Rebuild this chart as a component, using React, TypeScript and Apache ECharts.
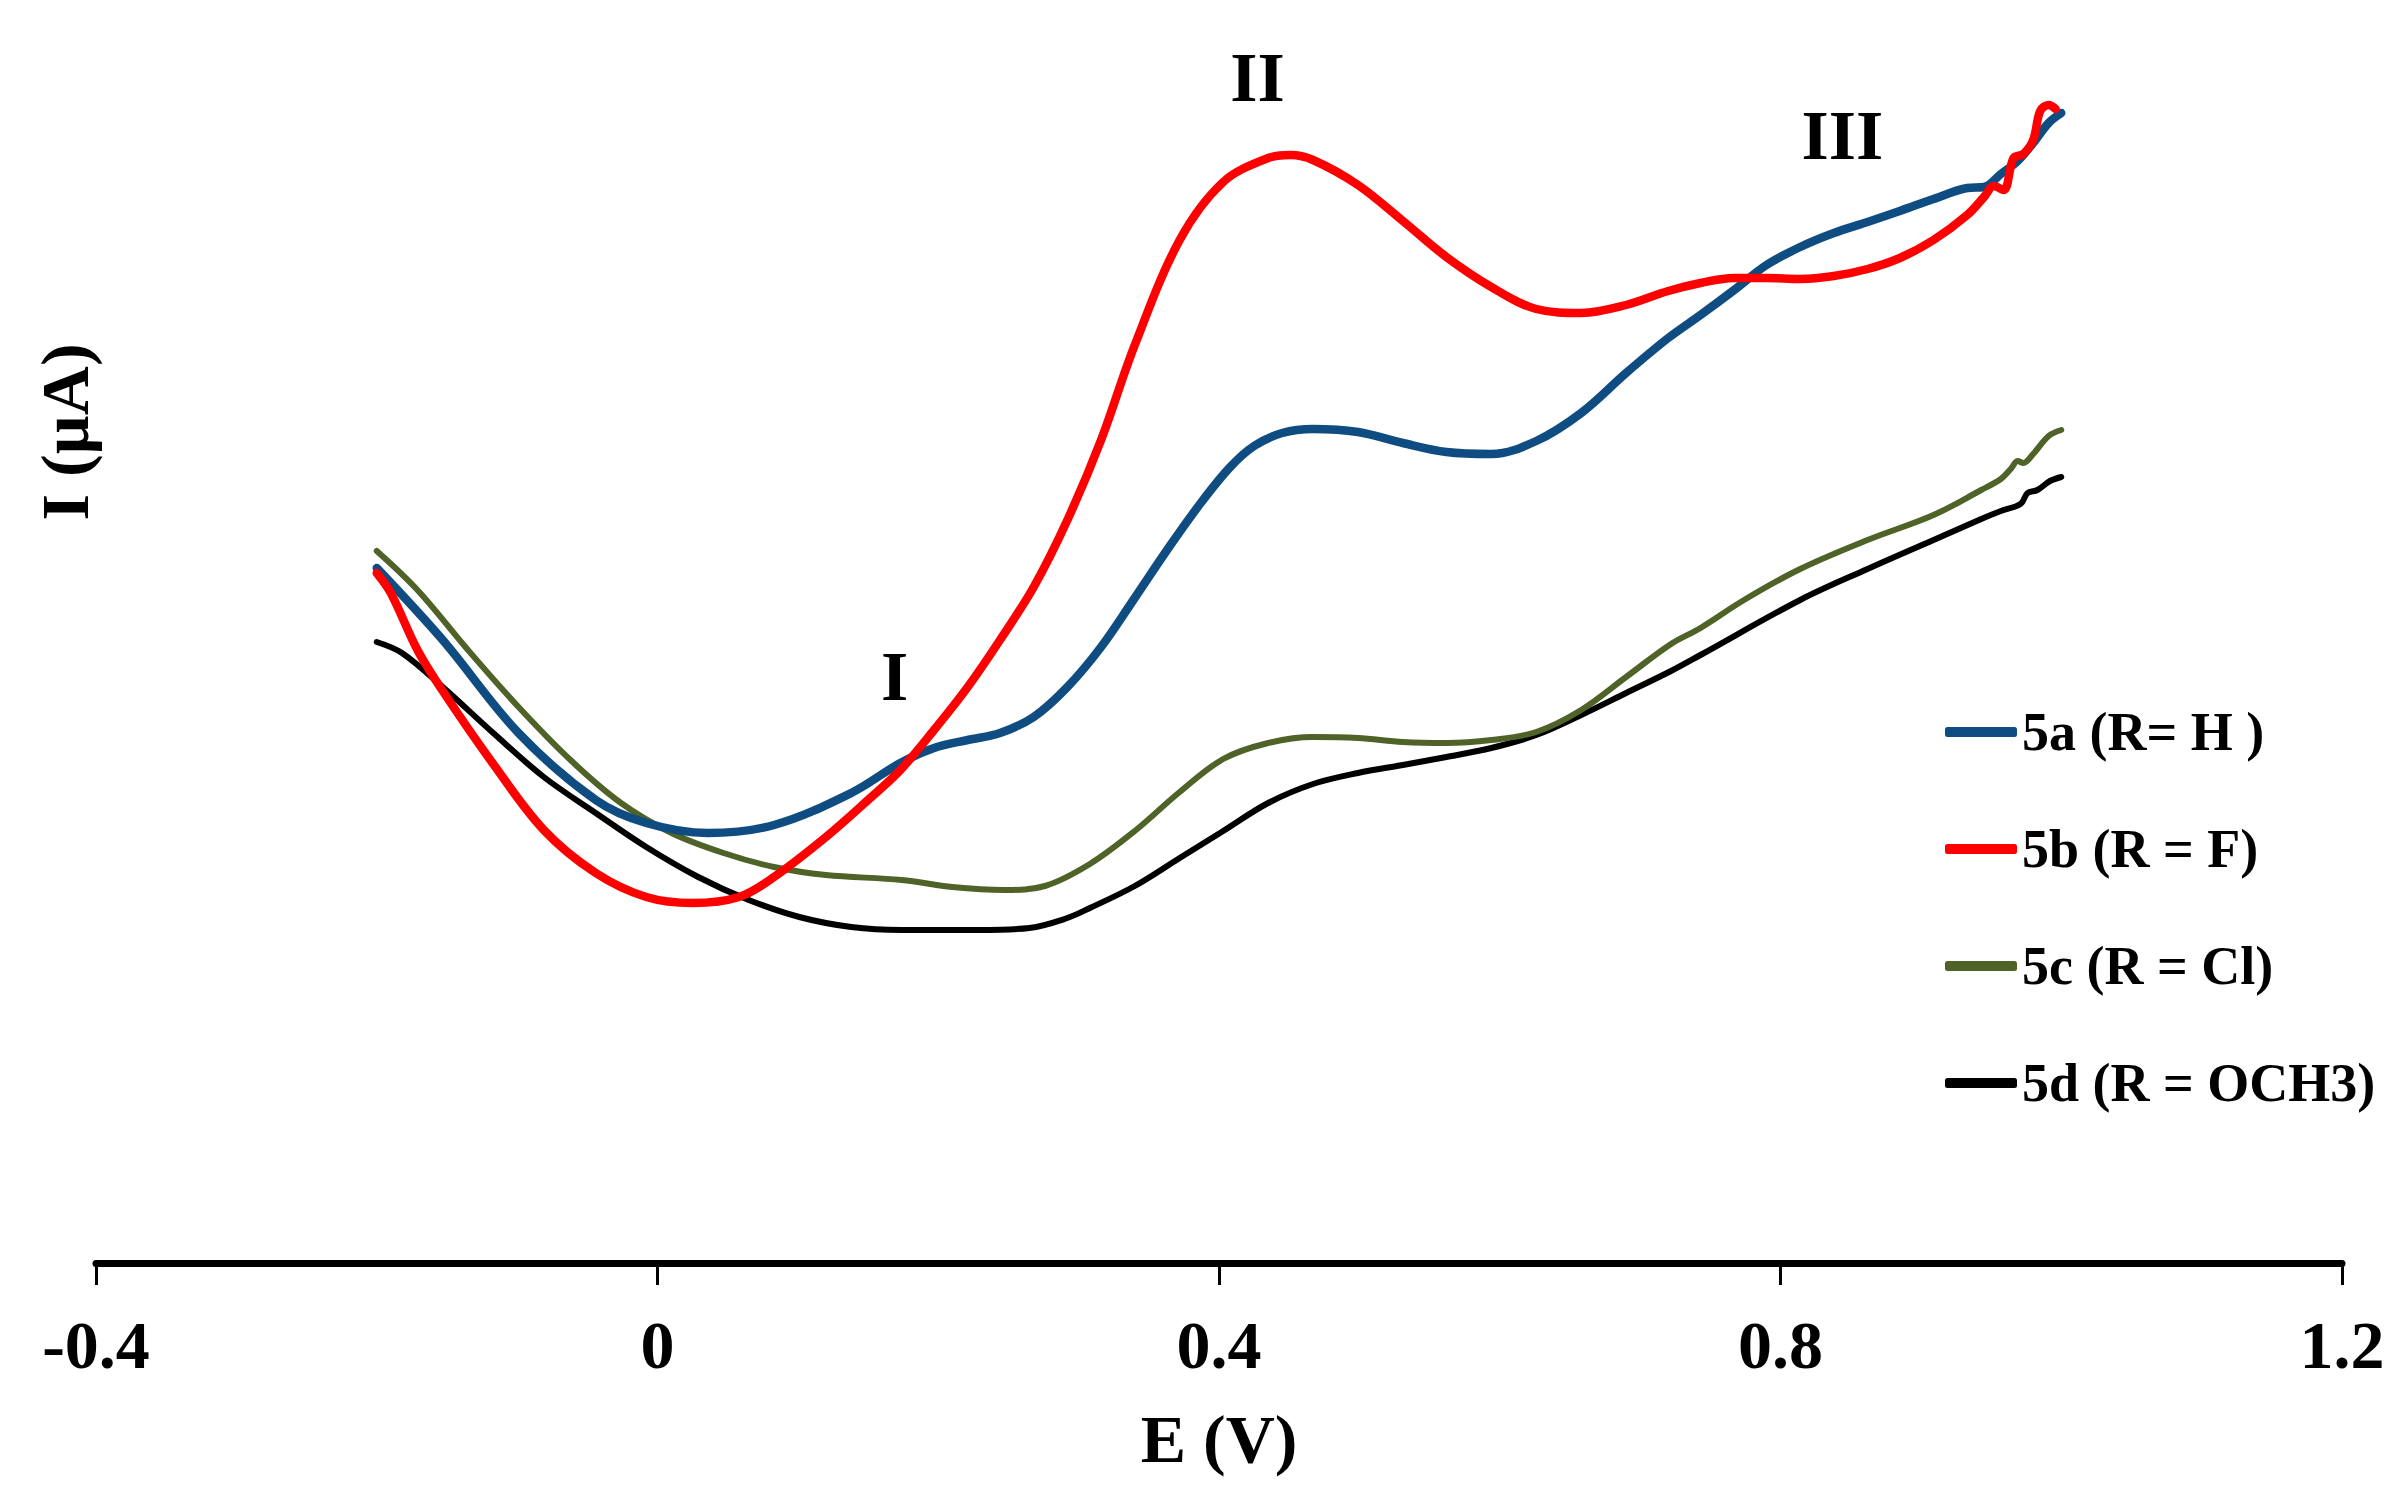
import React, { useEffect, useRef } from "react";
import * as echarts from "echarts";

const seriesNames = ["5a (R= H )", "5b (R = F)", "5c (R = Cl)", "5d (R = OCH3)"];
const seriesColors = ["#0F4C81", "#FF0000", "#4F6228", "#000000"];

const xTickLabels = ["-0.4", "0", "0.4", "0.8", "1.2"];
const peakLabels = ["I", "II", "III"];

const curve5a: [number, number][] = [
  [-0.2, 69.5], [-0.153, 62.3], [-0.099, 53], [-0.044, 46.3], [-0.008, 44], [0.036, 43],
  [0.083, 43.8], [0.138, 47], [0.173, 50], [0.197, 51.5], [0.221, 52.3], [0.244, 53],
  [0.268, 54.6], [0.292, 57.6], [0.316, 61.6], [0.339, 66.3], [0.363, 71.3], [0.387, 76],
  [0.408, 79.6], [0.425, 81.7], [0.445, 83], [0.467, 83.4], [0.499, 83.1], [0.531, 82],
  [0.562, 81.1], [0.594, 80.9], [0.626, 82.2], [0.658, 85], [0.69, 89], [0.72, 92.5],
  [0.743, 94.8], [0.767, 97.3], [0.79, 99.8], [0.814, 101.6], [0.838, 103], [0.862, 104.1],
  [0.885, 105.2], [0.909, 106.4], [0.933, 107.5], [0.945, 107.6], [0.957, 108.9], [0.969, 110.2],
  [0.98, 112], [0.991, 114], [1.0, 115],
];

const curve5b: [number, number][] = [
  [-0.2, 69], [-0.19, 67], [-0.171, 61.3], [-0.153, 57.2], [-0.117, 49.9], [-0.081, 43.3],
  [-0.044, 39], [-0.008, 36.6], [0.025, 36], [0.058, 36.6], [0.083, 38.6], [0.12, 42.6],
  [0.15, 46.3], [0.173, 49.3], [0.197, 53.3], [0.221, 57.6], [0.244, 62.3], [0.268, 67.6],
  [0.292, 74.3], [0.316, 82.3], [0.34, 91.8], [0.372, 102.3], [0.403, 108.1], [0.435, 110.5],
  [0.451, 110.8], [0.467, 110.3], [0.499, 107.8], [0.531, 104.2], [0.562, 100.6], [0.594, 97.6],
  [0.626, 95.4], [0.658, 95], [0.69, 95.8], [0.72, 97.2], [0.743, 98], [0.767, 98.5],
  [0.79, 98.5], [0.814, 98.4], [0.838, 98.7], [0.862, 99.4], [0.885, 100.5], [0.909, 102.3],
  [0.933, 104.8], [0.945, 106.6], [0.952, 107.7], [0.959, 107.3], [0.966, 110.5], [0.973, 110.9],
  [0.98, 112.3], [0.985, 115.2], [0.991, 115.8], [0.996, 115.4],
];

const curve5c: [number, number][] = [
  [-0.2, 71.2], [-0.171, 67.3], [-0.135, 61.3], [-0.099, 55.6], [-0.062, 50.3], [-0.026, 46],
  [0.01, 43], [0.047, 41], [0.083, 39.6], [0.12, 38.8], [0.174, 38.3], [0.21, 37.6],
  [0.247, 37.3], [0.276, 37.7], [0.308, 39.9], [0.34, 43.2], [0.372, 47.1], [0.403, 50.4],
  [0.435, 52], [0.467, 52.6], [0.499, 52.5], [0.531, 52.1], [0.562, 52], [0.594, 52.3],
  [0.626, 53.1], [0.658, 55.3], [0.69, 58.6], [0.722, 61.9], [0.743, 63.5], [0.774, 66.3],
  [0.814, 69.4], [0.862, 72.3], [0.909, 74.8], [0.943, 77.3], [0.957, 78.4], [0.964, 79.4],
  [0.969, 80.2], [0.973, 80], [0.98, 80.9], [0.991, 82.7], [1.0, 83.3],
];

const curve5d: [number, number][] = [
  [-0.2, 62.1], [-0.182, 61], [-0.153, 57.6], [-0.117, 53], [-0.081, 48.6], [-0.044, 45],
  [-0.008, 41.6], [0.029, 38.6], [0.065, 36.3], [0.101, 34.6], [0.138, 33.6], [0.174, 33.3],
  [0.229, 33.3], [0.265, 33.5], [0.29, 34.4], [0.308, 35.5], [0.34, 37.7], [0.372, 40.5],
  [0.403, 43.2], [0.435, 46], [0.467, 47.9], [0.499, 49], [0.531, 49.8], [0.562, 50.6],
  [0.594, 51.5], [0.626, 52.8], [0.658, 54.8], [0.69, 57], [0.722, 59.2], [0.743, 60.8],
  [0.814, 66.3], [0.862, 69.4], [0.909, 72.3], [0.943, 74.4], [0.957, 75.2], [0.971, 75.9],
  [0.976, 77], [0.983, 77.3], [0.992, 78.2], [1.0, 78.6],
];

const curves = [curve5a, curve5b, curve5c, curve5d];

const FONT = "'Liberation Serif', 'Times New Roman', serif";

export default function App() {
  const ref = useRef<HTMLDivElement>(null);

  useEffect(() => {
    if (!ref.current) return;
    const chart = echarts.init(ref.current, null, { renderer: "svg" });
    const widths = [8.5, 8.5, 6, 6];
    const zs = [4, 5, 3, 2];
    const peakCoords = [
      [0.169, 58.7],
      [0.4274, 118.6],
      [0.844, 112.8],
    ];
    const option: any = {
      animation: false,
      backgroundColor: "#ffffff",
      grid: { left: 96, right: 64, top: 63, bottom: 235, containLabel: false },
      xAxis: {
        type: "value",
        min: -0.4,
        max: 1.2,
        interval: 0.4,
        name: "E (V)",
        nameLocation: "middle",
        nameGap: 142,
        nameTextStyle: { fontFamily: FONT, fontWeight: "bold", fontSize: 68, color: "#000" },
        axisLine: { show: true, onZero: false, lineStyle: { color: "#000", width: 7 } },
        axisTick: { show: true, length: 22, lineStyle: { color: "#000", width: 3 } },
        axisLabel: {
          margin: 48,
          fontFamily: FONT,
          fontWeight: "bold",
          fontSize: 68,
          color: "#000",
          formatter: (v: number) => {
            const idx = Math.round((v + 0.4) / 0.4);
            return xTickLabels[idx] ?? String(v);
          },
        },
        splitLine: { show: false },
      },
      yAxis: {
        type: "value",
        min: 0,
        max: 120,
        show: false,
        splitLine: { show: false },
      },
      legend: {
        orient: "vertical",
        left: 1940,
        top: 697,
        itemWidth: 72,
        itemHeight: 10,
        itemGap: 57,
        icon: "roundRect",
        data: seriesNames,
        textStyle: {
          fontFamily: FONT,
          fontWeight: "bold",
          fontSize: 54,
          lineHeight: 60,
          color: "#000",
        },
      },
      graphic: [
        {
          type: "text",
          x: 65,
          y: 432,
          rotation: Math.PI / 2,
          style: {
            text: "I (µA)",
            fontFamily: FONT,
            fontWeight: "bold",
            fontSize: 68,
            fill: "#000",
            align: "center",
            verticalAlign: "middle",
          },
        },
      ],
      series: seriesNames.map((name, i) => ({
        name,
        type: "line",
        data: curves[i],
        smooth: 0.35,
        symbol: "none",
        showSymbol: false,
        z: zs[i],
        itemStyle: { color: seriesColors[i] },
        lineStyle: { color: seriesColors[i], width: widths[i], cap: "round", join: "round" },
        markPoint:
          i === 3
            ? {
                symbol: "circle",
                symbolSize: 1,
                itemStyle: { color: "rgba(0,0,0,0)" },
                label: {
                  show: true,
                  position: "inside",
                  fontFamily: FONT,
                  fontWeight: "bold",
                  fontSize: 70,
                  color: "#000",
                  formatter: (p: any) => p.name,
                },
                data: peakLabels.map((lab, k) => ({ name: lab, coord: peakCoords[k] })),
              }
            : undefined,
      })),
    };
    chart.setOption(option);
    return () => chart.dispose();
  }, []);

  return (
    <div
      ref={ref}
      style={{ position: "fixed", left: 0, top: 0, width: "2406px", height: "1498px", background: "#fff" }}
    />
  );
}
